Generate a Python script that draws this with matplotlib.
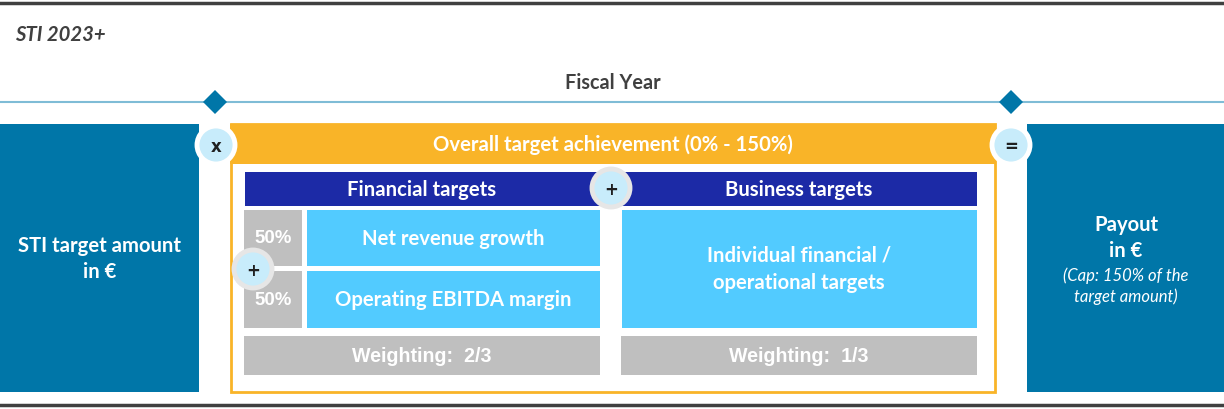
import matplotlib.pyplot as plt
from matplotlib.patches import Rectangle, Circle, Polygon

# texts of the diagram
title = "STI 2023+"
period = "Fiscal Year"
left_label = ["STI target amount", "in €"]
right_label = ["Payout", "in €"]
right_note = ["(Cap: 150% of the", "target amount)"]
overall = "Overall target achievement (0% - 150%)"
groups = ["Financial targets", "Business targets"]
fin_targets = ["Net revenue growth", "Operating EBITDA margin"]
fin_shares = ["50%", "50%"]
bus_targets = ["Individual financial /", "operational targets"]
weightings = ["2/3", "1/3"]
operators = ["x", "=", "+", "+"]

TEAL = "#0076a8"
ORANGE = "#f9b428"
NAVY = "#1c2aa6"
LIGHT = "#52cbff"
GREY = "#bfbfbf"
DARK = "#404040"
BUBBLE = "#c8ecfb"

plt.rcParams['font.family'] = ['Lato', 'DejaVu Sans']

fig = plt.figure(figsize=(12.24, 4.10), dpi=100)
ax = fig.add_axes([0, 0, 1, 1])
ax.set_xlim(0, 1224)
ax.set_ylim(410, 0)
ax.axis("off")

FS = 14.6  # main label size


def box(x0, y0, x1, y1, color, **kw):
    ax.add_patch(Rectangle((x0, y0), x1 - x0, y1 - y0, facecolor=color,
                           edgecolor=kw.pop("ec", "none"), **kw))


def label(x, y, s, size=FS, **kw):
    ax.text(x, y, s, fontsize=size, fontweight=kw.pop("weight", "bold"),
            color=kw.pop("color", "white"), ha="center", va="center", **kw)


def bubble(x, y, sym, ring="white"):
    ax.add_patch(Circle((x, y), 19, facecolor=BUBBLE, edgecolor=ring, lw=3.5, zorder=5))
    ax.text(x, y + 1, sym, ha="center", va="center", fontsize=12, fontweight="bold",
            color="#202020", zorder=6, family=["DejaVu Sans"])


def diamond(x, y, r=12):
    ax.add_patch(Polygon([(x - r, y), (x, y - r), (x + r, y), (x, y + r)],
                         closed=True, facecolor=TEAL, edgecolor="none", zorder=4))


# frame lines
ax.plot([0, 1224], [4, 4], color=DARK, lw=2.5)
ax.plot([0, 1224], [406, 406], color=DARK, lw=2.5)
ax.text(15, 35, title, fontsize=FS, fontweight="bold", fontstyle="italic",
        color=DARK, va="center", ha="left")

# fiscal year timeline
label(613, 83, period, size=14.3, color=DARK)
ax.plot([0, 1224], [103, 103], color="#7fbcd6", lw=1.5)
diamond(215, 103)
diamond(1011, 103)

# left and right blocks
box(0, 125, 199, 393, TEAL)
box(1027, 125, 1224, 393, TEAL)
label(100, 246, left_label[0])
label(100, 272, left_label[1])
label(1126, 225, right_label[0])
label(1126, 251, right_label[1])
label(1126, 276, right_note[0], size=12, weight="normal", fontstyle="italic")
label(1126, 297, right_note[1], size=12, weight="normal", fontstyle="italic")

# overall frame
box(231, 125, 995, 393, "white", ec=ORANGE, lw=2)
box(230, 125, 995, 165, ORANGE)
label(613, 145, overall)

# group headers
box(245, 173, 600, 207, NAVY)
box(622, 173, 977, 207, NAVY)
label(422, 190, groups[0])
label(799, 190, groups[1])

# financial targets
rows = [(211, 267), (272, 329)]
for (y0, y1), share, name in zip(rows, fin_shares, fin_targets):
    box(244, y0, 302, y1, GREY)
    box(307, y0, 600, y1, LIGHT)
    label(273, (y0 + y1) / 2, share, size=13.4, family=["Liberation Sans"])
    label(453, (y0 + y1) / 2, name)

# business targets
box(622, 211, 977, 329, LIGHT)
label(799, 256, bus_targets[0])
label(799, 283, bus_targets[1])

# weightings
for (x0, x1), w in zip([(244, 600), (621, 977)], weightings):
    box(x0, 337, x1, 376, GREY)
    label((x0 + x1) / 2, 357, "Weighting:  " + w, size=14.1, family=["Liberation Sans"])

# operator bubbles
bubble(216, 146, operators[0])
bubble(1011, 146, operators[1])
bubble(611, 189, operators[2], ring="#e6e6e6")
bubble(253, 270, operators[3], ring="#e6e6e6")

fig.savefig("out.png", dpi=100)
